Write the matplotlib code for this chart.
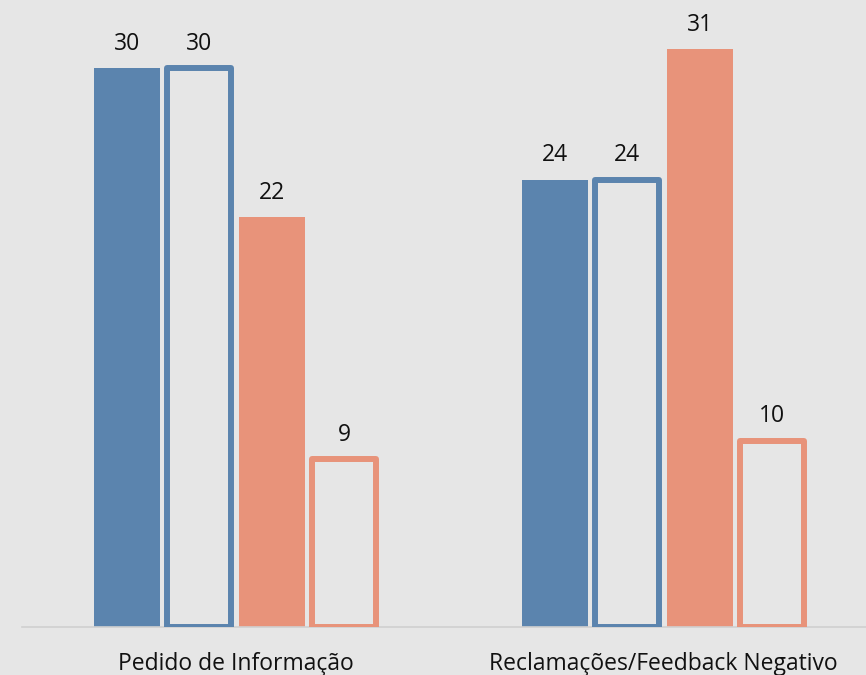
import matplotlib.pyplot as plt
import numpy as np

categories = ["Pedido de Informação", "Reclamações/Feedback Negativo"]
series_a = [30, 24]
series_b = [30, 24]
series_c = [22, 31]
series_d = [9, 10]

blue = "#5B84AE"
salmon = "#E8937A"
bg = "#E6E6E6"


def main():
    fig = plt.figure(figsize=(8.66, 6.75), dpi=100)
    fig.patch.set_facecolor(bg)
    ax = fig.add_axes([22 / 866, 1 - 627 / 675, 844 / 866, 627 / 675])
    ax.set_facecolor(bg)

    x = np.arange(len(categories))
    step = 0.1694
    w = 0.154
    ow = 0.150

    b1 = ax.bar(x - 1.5 * step, series_a, w, color=blue, zorder=2)
    b2 = ax.bar(x - 0.5 * step, series_b, ow, facecolor="none", edgecolor=blue,
                linewidth=4.3, joinstyle="round", zorder=3)
    b3 = ax.bar(x + 0.5 * step, series_c, w, color=salmon, zorder=2)
    b4 = ax.bar(x + 1.5 * step, series_d, ow, facecolor="none", edgecolor=salmon,
                linewidth=4.3, joinstyle="round", zorder=3)

    for bars in (b1, b2, b3, b4):
        ax.bar_label(bars, padding=9, fontsize=16.5, family="Open Sans", color="#111111")

    ax.set_xlim(-0.4988, 1.473)
    ax.set_ylim(0, 627 / 18.63)

    ax.set_xticks(x)
    ax.set_xticklabels(categories, fontsize=16.5, family="Open Sans", color="#111111")
    ax.tick_params(axis="x", length=0, pad=18)
    ax.set_yticks([])

    for side in ("top", "right", "left"):
        ax.spines[side].set_visible(False)
    ax.spines["bottom"].set_color("#D0D0D0")
    ax.spines["bottom"].set_linewidth(1.2)

    fig.savefig("out.png", dpi=100, facecolor=bg)


if __name__ == "__main__":
    main()
